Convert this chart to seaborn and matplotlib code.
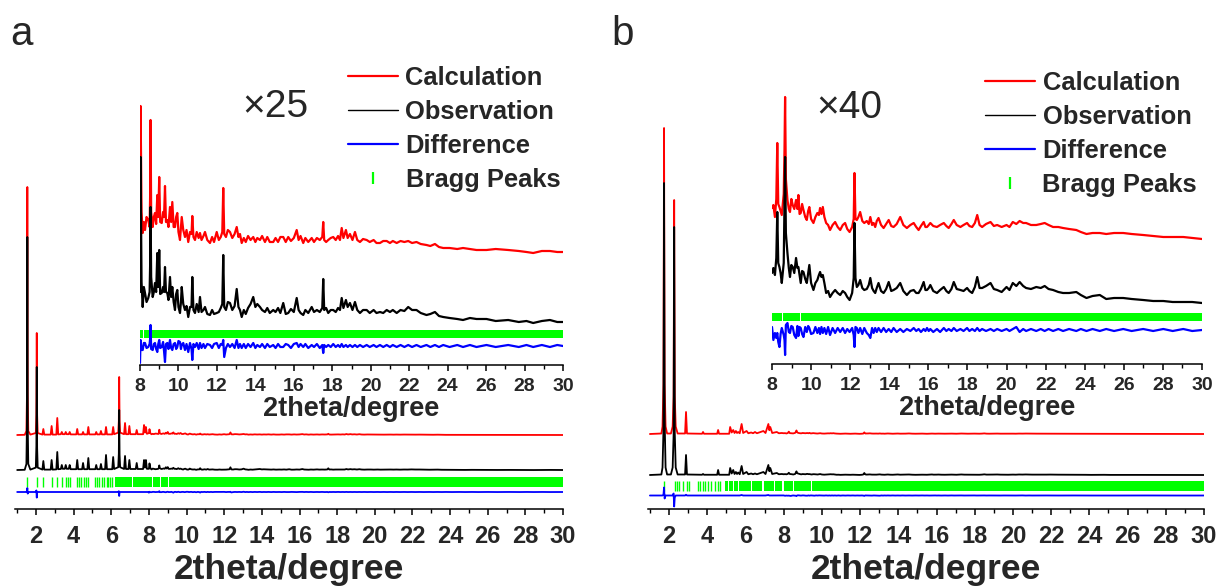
import numpy as np
import matplotlib
matplotlib.use("Agg")
import matplotlib.pyplot as plt
from matplotlib.lines import Line2D
from matplotlib.ticker import MultipleLocator
import seaborn as sns

# ===================== DATA =====================
# ---- panel a : 2theta grid and intensities (counts; main panel shows counts/25) ----
a_two_theta = [
    1.00, 1.40, 1.49, 1.52, 1.54, 1.56, 1.59, 1.70, 1.99, 2.02, 2.04, 2.06, 2.09,
    2.34, 2.39, 2.44, 2.78, 2.83, 2.88, 3.08, 3.13, 3.18, 3.32, 3.37, 3.42,
    3.53, 3.58, 3.63, 3.74, 3.79, 3.84, 4.14, 4.19, 4.24, 4.45, 4.50, 4.55,
    4.73, 4.78, 4.83, 5.15, 5.20, 5.25, 5.40, 5.45, 5.50, 5.67, 5.72, 5.77,
    6.05, 6.10, 6.15, 6.37, 6.40, 6.42, 6.44, 6.47, 6.68, 6.73, 6.78, 6.91,
    6.96, 7.01, 7.30, 7.35, 7.40, 7.69, 7.74, 7.79, 7.84, 7.89, 7.95,
    8.00, 8.03, 8.08, 8.14, 8.20, 8.26, 8.34, 8.43, 8.50, 8.53,
    8.55, 8.58, 8.66, 8.72, 8.78, 8.84, 8.90, 8.95, 9.00, 9.05,
    9.13, 9.20, 9.25, 9.30, 9.35, 9.42, 9.48, 9.56, 9.62, 9.68,
    9.75, 9.82, 9.88, 9.94, 10.00, 10.08, 10.13, 10.17, 10.25, 10.34,
    10.42, 10.51, 10.60, 10.68, 10.72, 10.78, 10.86, 10.95, 11.05, 11.12,
    11.20, 11.30, 11.38, 11.50, 11.64, 11.75, 11.85, 11.99, 12.10, 12.20,
    12.28, 12.33, 12.38, 12.47, 12.57, 12.68, 12.80, 12.92, 13.03, 13.12,
    13.20, 13.29, 13.40, 13.50, 13.62, 13.75, 13.89, 14.00, 14.10, 14.24,
    14.35, 14.50, 14.62, 14.75, 14.93, 15.05, 15.18, 15.30, 15.45, 15.58,
    15.71, 15.85, 16.00, 16.15, 16.25, 16.35, 16.49, 16.60, 16.75, 16.93,
    17.05, 17.20, 17.35, 17.48, 17.53, 17.58, 17.68, 17.79, 17.92, 18.05,
    18.18, 18.30, 18.40, 18.49, 18.58, 18.71, 18.80, 18.92, 19.05, 19.18,
    19.30, 19.44, 19.60, 19.79, 19.95, 20.15, 20.30, 20.48, 20.65, 20.83,
    21.00, 21.15, 21.35, 21.55, 21.75, 21.95, 22.15, 22.38, 22.60, 22.90,
    23.10, 23.34, 23.55, 23.77, 24.10, 24.50, 24.80, 25.16, 25.50, 26.02,
    26.50, 27.15, 27.70, 28.10, 28.45, 28.90, 29.32, 29.70, 30.00,
]
a_calculation = [
    0, 5, 100, 1000, 6200, 1000, 100, 10, 50, 500, 2550, 500, 50,
    10, 150, 10, 10, 225, 10, 10, 425, 15, 20, 75, 20,
    20, 75, 20, 20, 75, 15, 15, 150, 15, 15, 75, 15,
    15, 200, 15, 15, 75, 15, 15, 100, 15, 15, 200, 15,
    15, 200, 20, 60, 350, 1450, 350, 60, 20, 300, 20, 20,
    225, 20, 20, 125, 20, 20, 250, 60, 200, 30, 40,
    48, 146, 40, 19, 30, 22, 35, 32, 25, 60,
    132, 40, 25, 35, 39, 28, 57, 35, 75, 30,
    29, 40, 35, 66, 30, 32, 25, 45, 30, 50,
    25, 25, 35, 39, 20, 12, 25, 35, 22, 15,
    22, 10, 20, 18, 36, 15, 12, 20, 14, 19,
    12, 16, 20, 12, 9, 15, 10, 20, 12, 15,
    20, 64, 18, 15, 22, 20, 14, 18, 25, 15,
    18, 9, 14, 10, 16, 12, 15, 10, 14, 12,
    16, 10, 15, 10, 10, 14, 10, 15, 15, 10,
    15, 11, 14, 22, 12, 16, 9, 14, 10, 14,
    10, 14, 12, 15, 30, 12, 10, 12, 14, 15,
    12, 16, 12, 24, 14, 22, 14, 18, 12, 20,
    12, 10, 13, 12, 10, 12, 9, 9, 11, 11,
    9, 11, 9, 11, 10, 11, 9, 10, 8, 7,
    6, 8, 5, 4, 4, 3, 4, 3, 2, 2,
    3, 2, 1, 0, -1, 1, 1, 0, 0,
]
a_observation = [
    0, 5, 150, 1200, 5825, 1100, 150, 10, 60, 600, 2575, 550, 60,
    10, 225, 10, 10, 250, 10, 15, 450, 20, 25, 125, 30,
    30, 125, 30, 30, 125, 20, 20, 250, 20, 20, 175, 20,
    20, 300, 20, 20, 125, 20, 20, 150, 20, 20, 375, 20,
    20, 325, 25, 70, 400, 1500, 380, 70, 25, 350, 25, 25,
    250, 25, 25, 175, 25, 25, 250, 60, 250, 30, 30,
    30, 165, 40, 15, 35, 29, 20, 24, 30, 60,
    115, 45, 25, 30, 39, 30, 69, 35, 72, 28,
    29, 35, 30, 55, 30, 29, 22, 45, 25, 35,
    20, 12, 28, 32, 15, 9, 20, 35, 18, 12,
    16, 5, 15, 15, 45, 12, 9, 18, 10, 25,
    10, 12, 15, 8, 7, 12, 8, 9, 10, 14,
    18, 67, 15, 12, 20, 19, 12, 16, 33, 15,
    12, 5, 12, 8, 14, 18, 25, 15, 18, 15,
    12, 10, 14, 9, 12, 10, 14, 9, 19, 8,
    9, 13, 10, 24, 12, 9, 7, 12, 9, 15,
    10, 12, 10, 14, 43, 12, 14, 9, 12, 12,
    10, 14, 12, 24, 14, 22, 15, 19, 12, 20,
    12, 9, 12, 12, 9, 12, 9, 10, 9, 12,
    10, 12, 9, 12, 11, 15, 12, 12, 9, 7,
    8, 10, 6, 5, 4, 3, 2, 4, 3, 3,
    1, 2, 0, 1, -1, 1, 2, 0, 0,
]
a_difference = [
    0, 0, 0, 20, 100, -40, 0, 0, 0, 40, -140, 0, 0,
    0, 0, 0, 0, 0, 0, 0, 0, 0, 0, 0, 0,
    0, 0, 0, 0, 0, 0, 0, 0, 0, 0, 0, 0,
    0, 0, 0, 0, 0, 0, 0, 0, 0, 0, 0, 0,
    0, 0, 0, 0, 20, -100, 0, 0, 0, 0, 0, 0,
    0, 0, 0, 0, 0, 0, 0, 0, 0, 0, 0,
    -17, 6, -4, -4, 3, 3, -2, -1, 2, 8,
    21, -3, -4, 2, 3, -3, -6, 2, 6, -2,
    -1, 4, -5, -16, 2, 3, -3, 6, -2, -4,
    2, 3, -3, -1, 5, 4, -3, 1, 3, -4,
    2, -6, 3, -3, -14, 2, -1, 3, -3, 3,
    -2, 2, -2, 2, 1, -2, 2, 3, -2, 2,
    1, 6, -11, -2, 2, -1, 2, -2, 6, -2,
    2, -2, 2, -2, 2, -1, 3, -2, 1, -1,
    2, -2, 2, -1, 1, -2, 2, -1, -1, 2,
    1, -2, 2, 3, -1, 2, -1, 2, -2, 1,
    -1, 2, -2, 1, -7, 1, -1, 1, -1, 2,
    -1, 1, -1, 2, -1, 1, -1, 1, -1, 1,
    -1, 1, -1, 1, -1, 1, -1, 1, -1, 1,
    -1, 1, -1, 1, -1, 1, -1, 1, -1, 1,
    -1, 1, -1, 1, -1, 1, -1, 1, -1, 1,
    -1, 1, -1, 1, -1, 1, -1, 1, 0,
]
a_bragg_ticks = [1.54, 2.04, 2.39, 2.83, 3.13, 3.36, 3.58, 3.68, 3.79, 4.20, 4.30, 4.40,
                 4.55, 4.65, 4.75, 5.15, 5.25, 5.35, 5.50, 5.60, 5.75, 5.85, 5.95, 6.05]
a_bragg_band_start = [6.20, 7.14, 8.22, 8.62, 9.06]
a_bragg_band_end = [7.08, 8.16, 8.58, 9.02, 30.00]

# ---- panel b : 2theta grid and intensities (counts; main panel shows counts/40) ----
b_two_theta = [
    1.00, 1.60, 1.66, 1.71, 1.74, 1.77, 1.82, 1.90, 2.10, 2.19,
    2.24, 2.27, 2.30, 2.35, 2.45, 2.84, 2.89, 2.94, 3.73, 3.78,
    3.83, 4.52, 4.57, 4.62, 5.15, 5.20, 5.28, 5.36, 5.43, 5.50,
    5.56, 5.62, 5.70, 5.80, 5.88, 6.06, 6.15, 6.30, 6.40, 6.50,
    6.60, 6.94, 7.05, 7.20, 7.25, 7.30, 7.40, 7.64, 7.75, 7.90,
    8.00, 8.07, 8.15, 8.22, 8.27, 8.32, 8.38, 8.44, 8.50, 8.60,
    8.64, 8.67, 8.71, 8.79, 8.86, 8.92, 8.99, 9.06, 9.14, 9.23,
    9.30, 9.35, 9.41, 9.47, 9.54, 9.61, 9.70, 9.78, 9.85, 9.91,
    10.00, 10.12, 10.22, 10.32, 10.40, 10.46, 10.53, 10.60, 10.68, 10.77,
    10.87, 10.97, 11.10, 11.23, 11.36, 11.49, 11.62, 11.74, 11.85, 11.97,
    12.10, 12.18, 12.22, 12.27, 12.34, 12.42, 12.51, 12.62, 12.72, 12.85,
    12.95, 13.03, 13.12, 13.20, 13.28, 13.36, 13.45, 13.58, 13.71, 13.84,
    13.97, 14.10, 14.22, 14.38, 14.56, 14.72, 14.90, 15.08, 15.25, 15.38,
    15.50, 15.62, 15.76, 15.85, 15.93, 16.02, 16.10, 16.25, 16.44, 16.60,
    16.79, 16.92, 17.04, 17.18, 17.30, 17.45, 17.64, 17.80, 17.98, 18.10,
    18.24, 18.38, 18.50, 18.62, 18.75, 18.95, 19.18, 19.35, 19.52, 19.75,
    20.00, 20.15, 20.32, 20.50, 20.67, 20.85, 21.00, 21.25, 21.52, 21.75,
    21.95, 22.15, 22.38, 22.65, 22.89, 23.20, 23.57, 23.80, 24.09, 24.40,
    24.77, 25.10, 25.50, 25.97, 26.40, 26.99, 27.50, 28.02, 28.50, 29.04,
    29.50, 30.00,
]
b_calculation = [
    0, 20, 300, 2000, 12240, 2000, 300, 20, 20, 300,
    1500, 9360, 1500, 300, 20, 20, 880, 20, 10, 80,
    10, 10, 160, 10, 10, 280, 60, 160, 40, 120,
    40, 80, 30, 400, 40, 120, 30, 60, 30, 80,
    30, 120, 40, 400, 150, 280, 40, 80, 30, 40,
    31, 34, 22, 40, 96, 35, 32, 28, 24, 45,
    90, 142, 60, 39, 30, 27, 40, 34, 30, 39,
    30, 44, 25, 26, 35, 29, 22, 19, 28, 32,
    20, 16, 22, 26, 24, 31, 25, 32, 22, 16,
    14, 9, 14, 17, 12, 9, 14, 16, 10, 7,
    12, 20, 66, 20, 19, 22, 27, 18, 16, 18,
    15, 22, 14, 16, 12, 18, 21, 14, 11, 15,
    19, 13, 12, 15, 22, 14, 11, 14, 16, 12,
    9, 13, 17, 12, 12, 14, 16, 13, 12, 14,
    16, 13, 11, 15, 19, 14, 12, 14, 16, 13,
    12, 16, 24, 14, 12, 15, 17, 13, 14, 12,
    14, 12, 17, 15, 18, 16, 16, 14, 14, 15,
    16, 14, 12, 12, 11, 10, 9, 7, 5, 6,
    6, 5, 6, 6, 5, 4, 3, 2, 2, 2,
    1, 0,
]
b_observation = [
    0, 20, 300, 1800, 11680, 2200, 300, 20, 20, 300,
    1600, 9920, 1700, 300, 20, 20, 800, 20, 10, 40,
    10, 10, 200, 10, 10, 280, 60, 200, 40, 120,
    40, 100, 30, 360, 40, 120, 30, 60, 30, 60,
    30, 120, 40, 400, 150, 280, 40, 80, 30, 40,
    30, 35, 28, 45, 91, 40, 36, 30, 20, 40,
    100, 146, 70, 50, 35, 26, 38, 36, 30, 45,
    35, 36, 28, 20, 32, 31, 24, 20, 30, 38,
    20, 13, 20, 23, 28, 31, 26, 28, 20, 10,
    12, 6, 10, 13, 10, 8, 12, 10, 6, 3,
    10, 25, 80, 25, 16, 18, 23, 15, 13, 14,
    18, 25, 15, 12, 10, 15, 20, 12, 10, 14,
    21, 12, 13, 15, 20, 12, 8, 12, 13, 10,
    10, 14, 21, 13, 13, 15, 18, 12, 10, 13,
    16, 12, 10, 14, 21, 14, 13, 12, 15, 12,
    10, 16, 26, 15, 15, 17, 20, 14, 13, 11,
    16, 13, 20, 17, 21, 17, 15, 14, 16, 15,
    17, 14, 13, 11, 10, 10, 11, 8, 5, 7,
    8, 4, 5, 5, 4, 3, 2, 2, 1, 1,
    1, 0,
]
b_difference = [
    0, 0, 0, 40, 320, -120, 0, 0, 0, 0,
    80, -440, -80, 0, 0, 0, 30, 0, 0, 0,
    0, 0, 0, 0, 0, 0, 0, 0, 0, 0,
    0, 0, 0, 20, 0, 0, 0, 0, 0, 0,
    0, 0, 0, 20, 0, 0, 0, 0, 0, 0,
    3, -10, -3, -8, -3, -12, -17, -4, 2, -5,
    -10, -25, 5, 7, -2, -3, 4, 3, -5, -8,
    4, -6, 3, 2, -4, -7, 3, -2, 4, 2,
    -4, -3, 3, -3, 2, -4, 3, -3, 2, -4,
    3, -5, 2, -3, 2, -2, 2, -3, 1, -2,
    2, -5, -17, 3, 2, -3, 2, -4, 2, -3,
    -5, -8, 2, -3, 2, -2, 2, -2, 2, -2,
    1, -2, 2, -2, 1, -2, 1, -1, 2, -1,
    1, -2, 1, -1, 2, -1, 1, -2, 1, -2,
    2, -1, 1, -1, 2, -1, 1, -1, 2, -1,
    1, -1, 2, -1, 1, -1, 1, -1, 1, -1,
    1, -1, 1, 3, -2, 1, -1, 1, -1, 1,
    -1, 1, -1, 1, -1, 1, -1, 1, -1, 1,
    -1, 1, -1, 1, -1, 1, -1, 1, -1, 1,
    -1, 0,
]
b_bragg_ticks = [1.74, 2.31, 2.43, 2.54, 2.72, 2.92, 3.07, 3.54, 3.62, 3.80, 3.88,
                 4.06, 4.18, 4.41, 4.58, 4.67]
b_bragg_band_start = [4.93, 5.12, 5.40, 5.65, 5.95, 6.35, 6.95, 7.55, 8.00, 8.54, 9.50]
b_bragg_band_end = [5.08, 5.35, 5.60, 5.90, 6.30, 6.88, 7.50, 7.92, 8.50, 9.45, 30.00]

legend_labels = ["Calculation", "Observation", "Difference", "Bragg Peaks"]
x_label = "2theta/degree"

# ===================== STYLE =====================
sns.set_theme(style="ticks")
plt.rcParams["font.family"] = ["Liberation Sans", "DejaVu Sans"]
plt.rcParams["font.weight"] = "bold"

RED, BLUE, GREEN = "#FF0000", "#0000FF", "#00FF00"
W, H = 1224, 588
fig = plt.figure(figsize=(W / 100, H / 100), dpi=100)


def px_axes(left, right, bottom, top):
    return fig.add_axes([left / W, 1 - bottom / H, (right - left) / W, (bottom - top) / H])


def style_axis(ax, xlim, ytop, labelsize, pad, major_len):
    ax.set_xlim(*xlim)
    ax.set_ylim(0, ytop)
    ax.set_yticks([])
    ax.set_ylabel("")
    for s in ("left", "right", "top"):
        ax.spines[s].set_visible(False)
    ax.spines["bottom"].set_color("black")
    ax.spines["bottom"].set_linewidth(1.1)
    ax.xaxis.set_major_locator(MultipleLocator(2))
    ax.xaxis.set_minor_locator(MultipleLocator(1))
    ax.tick_params(axis="x", which="major", direction="out", length=major_len, width=1.1,
                   color="black", labelsize=labelsize, pad=pad, bottom=True)
    ax.tick_params(axis="x", which="minor", direction="out", length=major_len * 0.6,
                   width=1.0, color="black", bottom=True)
    for lbl in ax.get_xticklabels():
        lbl.set_fontweight("bold")
    ax.patch.set_alpha(0)


def draw_set(ax, tt, calc, obs, diff, scale, off, bragg_ticks, band_s, band_e, band, lw, xmin=None):
    tt = np.asarray(tt, float)
    calc = np.asarray(calc, float)
    obs = np.asarray(obs, float)
    diff = np.asarray(diff, float)
    m = np.ones_like(tt, bool) if xmin is None else tt >= xmin
    sns.lineplot(x=tt[m], y=off[0] + calc[m] / scale, ax=ax, color=RED, linewidth=lw,
                 estimator=None, sort=False, legend=False)
    sns.lineplot(x=tt[m], y=off[1] + obs[m] / scale, ax=ax, color="black", linewidth=lw,
                 estimator=None, sort=False, legend=False)
    if bragg_ticks:
        ax.vlines(bragg_ticks, band[0], band[1], color=GREEN, linewidth=1.0)
    ax.broken_barh([(s, e - s) for s, e in zip(band_s, band_e)], (band[0], band[1] - band[0]),
                   facecolor=GREEN, edgecolor="none")
    sns.lineplot(x=tt[m], y=off[2] + diff[m] / scale, ax=ax, color=BLUE, linewidth=lw,
                 estimator=None, sort=False, legend=False)


def add_legend(ax, left, top):
    handles = [Line2D([], [], color=RED, lw=1.6),
               Line2D([], [], color="black", lw=1.0),
               Line2D([], [], color=BLUE, lw=1.6),
               Line2D([], [], color=GREEN, marker="|", ls="none", markersize=9,
                      markeredgewidth=1.6)]
    ax.legend(handles, legend_labels, loc="upper left",
              bbox_to_anchor=(left / W, 1 - top / H), bbox_transform=fig.transFigure,
              frameon=False, prop={"weight": "bold", "size": 18.4},
              handlelength=1.95, handletextpad=0.3, labelspacing=0.39,
              borderpad=0, borderaxespad=0)


# ---------------- panel a ----------------
ax_a = px_axes(15, 563, 509, 0)
draw_set(ax_a, a_two_theta, a_calculation, a_observation, a_difference, 25.0,
         (74, 39, 17), a_bragg_ticks, a_bragg_band_start, a_bragg_band_end, (22, 32), 1.3)
style_axis(ax_a, (0.884, 30), 509, 17, 7, 4.5)
ax_a.set_xlabel(x_label, fontsize=25.5, fontweight="bold")
ax_a.xaxis.set_label_coords(0.5, (509 - 569) / 509)
ax_a.xaxis.label.set_va("center")

ins_a = px_axes(140, 563, 365, 95)
draw_set(ins_a, a_two_theta, a_calculation, a_observation, a_difference, 1.0,
         (113, 43, 19), [], a_bragg_band_start, a_bragg_band_end, (27, 35), 1.6, xmin=8.0)
style_axis(ins_a, (8, 30), 270, 14, 5, 4.5)
ins_a.set_xlabel(x_label, fontsize=19.5, fontweight="bold")
ins_a.xaxis.set_label_coords(0.5, (365 - 409) / 270)
ins_a.xaxis.label.set_va("center")

add_legend(ax_a, 348, 66)
fig.text(275 / W, 1 - 107 / H, "\u00d725", fontsize=28, fontweight="normal",
         ha="center", va="center")
fig.text(22 / W, 1 - 34 / H, "a", fontsize=29, fontweight="normal", ha="center", va="center")

# ---------------- panel b ----------------
ax_b = px_axes(648, 1204, 509, 0)
draw_set(ax_b, b_two_theta, b_calculation, b_observation, b_difference, 40.0,
         (75, 34, 13.5), b_bragg_ticks, b_bragg_band_start, b_bragg_band_end, (18, 28), 1.3)
style_axis(ax_b, (0.9, 30), 509, 17, 7, 4.5)
ax_b.set_xlabel(x_label, fontsize=25.5, fontweight="bold")
ax_b.xaxis.set_label_coords(0.5, (509 - 569) / 509)
ax_b.xaxis.label.set_va("center")

ins_b = px_axes(772, 1202, 364, 90)
draw_set(ins_b, b_two_theta, b_calculation, b_observation, b_difference, 1.0,
         (125, 61, 34), [], b_bragg_band_start, b_bragg_band_end, (43, 51), 1.6, xmin=8.0)
style_axis(ins_b, (8, 30), 274, 14, 5, 4.5)
ins_b.set_xlabel(x_label, fontsize=19.5, fontweight="bold")
ins_b.xaxis.set_label_coords(0.5, (364 - 408) / 274)
ins_b.xaxis.label.set_va("center")

add_legend(ax_b, 985, 71)
fig.text(849 / W, 1 - 108 / H, "\u00d740", fontsize=28, fontweight="normal",
         ha="center", va="center")
fig.text(623 / W, 1 - 34 / H, "b", fontsize=29, fontweight="normal", ha="center", va="center")

fig.savefig("out.png", dpi=100)
